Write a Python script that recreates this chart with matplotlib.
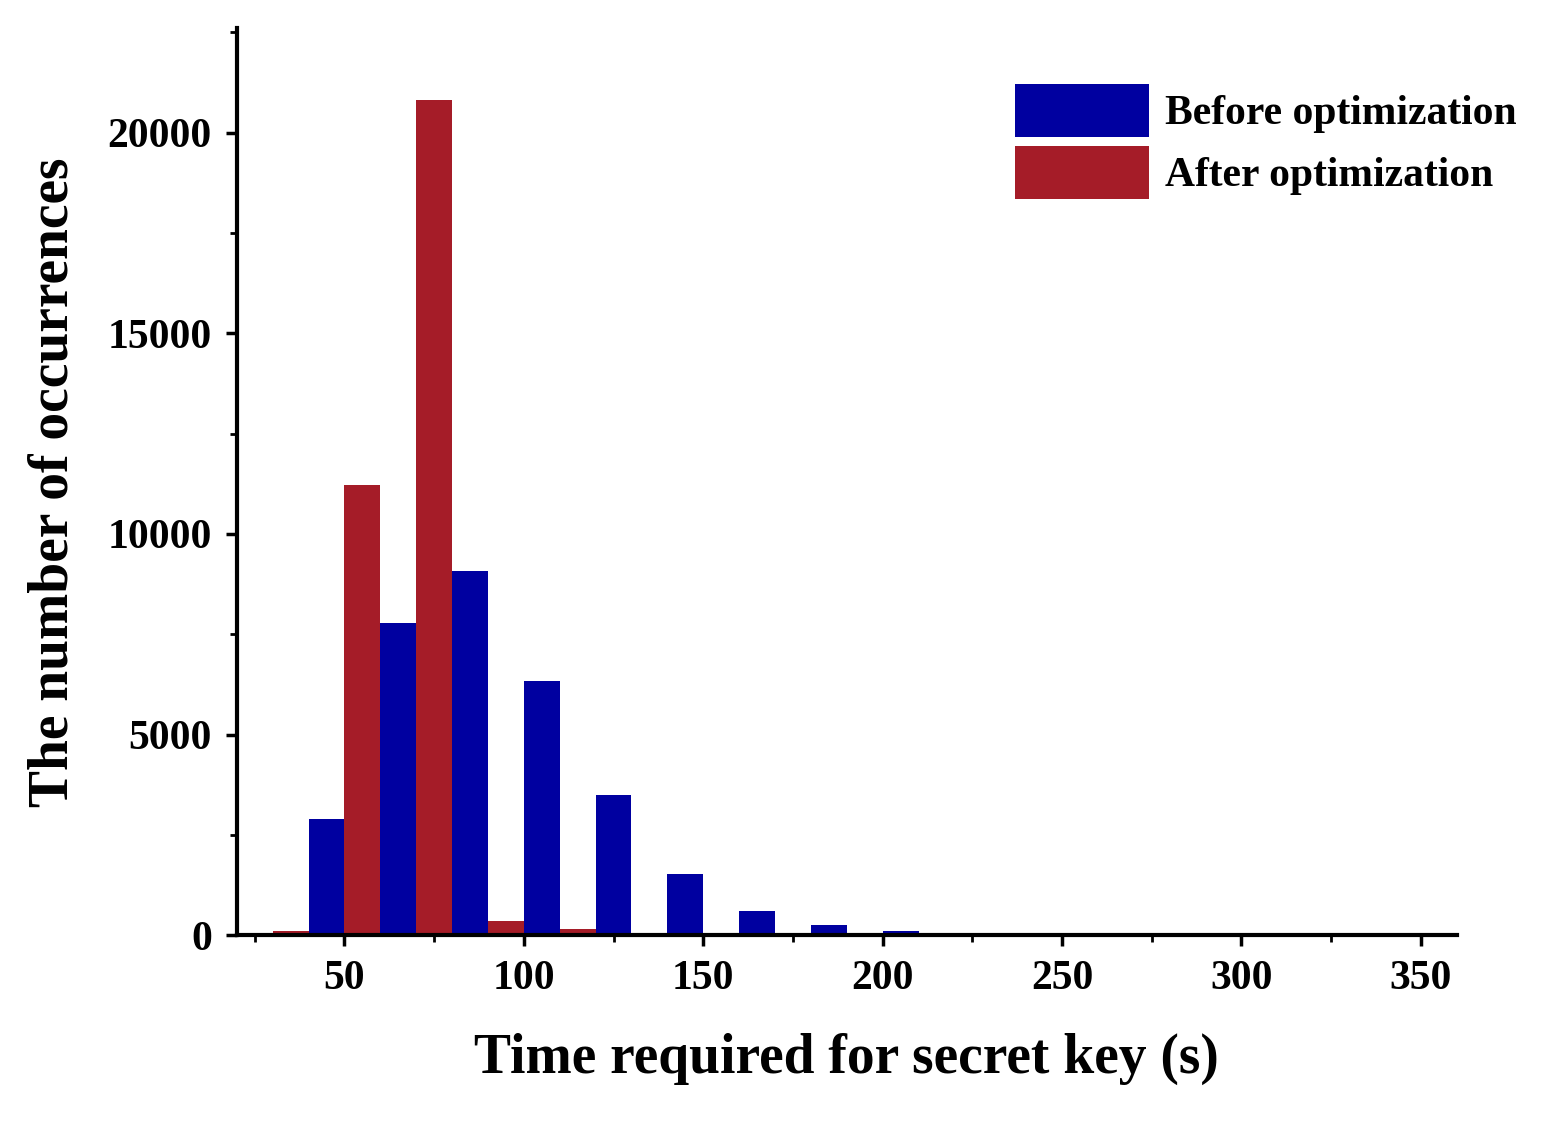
import matplotlib.pyplot as plt
import numpy as np
from matplotlib.ticker import MultipleLocator

plt.rcParams['font.family'] = ['Liberation Serif', 'DejaVu Serif']
plt.rcParams['font.weight'] = 'bold'

# bar left edges (s) and counts, bars are 10 s wide
before_x = [40, 60, 80, 100, 120, 140, 160, 180, 200]
before_y = [2900, 7770, 9070, 6350, 3490, 1520, 600, 270, 120]
after_x = [30, 50, 70, 90, 110]
after_y = [100, 11230, 20820, 350, 150]

fig = plt.figure(figsize=(15.58, 11.27), dpi=100)
ax = fig.add_axes([0.152, 0.170, 0.783, 0.805])

ax.bar(before_x, before_y, width=10, align='edge', color='#0000a0', label='Before optimization')
ax.bar(after_x, after_y, width=10, align='edge', color='#a51c28', label='After optimization')

ax.set_xlim(20, 360)
ax.set_ylim(0, 22600)
ax.xaxis.set_major_locator(MultipleLocator(50))
ax.xaxis.set_minor_locator(MultipleLocator(25))
ax.yaxis.set_major_locator(MultipleLocator(5000))
ax.yaxis.set_minor_locator(MultipleLocator(2500))
for s in ['top', 'right']:
    ax.spines[s].set_visible(False)
for s in ['left', 'bottom']:
    ax.spines[s].set_linewidth(3)
ax.tick_params(which='major', width=2.5, length=8, labelsize=30, pad=10)
ax.tick_params(which='minor', width=2, length=5)

ax.set_xlabel('Time required for secret key (s)', fontsize=40, fontweight='bold', labelpad=25)
ax.set_ylabel('The number of occurrences', fontsize=40, fontweight='bold', labelpad=20)

ax.legend(loc='upper right', bbox_to_anchor=(1.08, 0.98), frameon=False, fontsize=30,
          handlelength=3.2, handleheight=1.6, handletextpad=0.4, labelspacing=0.2)

fig.savefig('out.png', dpi=100)
